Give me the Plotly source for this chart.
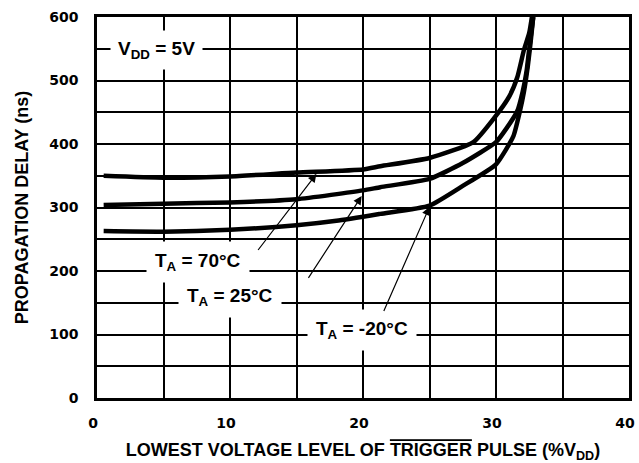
import plotly.graph_objects as go

# Data
x_70 = [0.5, 5, 10, 15, 20, 21.3, 25, 28.3, 29.9, 31.0, 31.6, 32.1, 32.5, 32.7]
y_70 = [350, 347, 349, 355, 360, 365, 378, 403, 442, 475, 505, 548, 575, 600]

x_25 = [0.5, 5, 10, 15, 20, 21.3, 25, 27.5, 30, 30.8, 31.6, 32.0, 32.3, 32.5, 32.8]
y_25 = [304, 306, 308, 313, 327, 332, 345, 370, 403, 425, 452, 482, 515, 550, 600]

x_m20 = [0.5, 5, 10, 15, 18, 21.3, 25, 27.5, 30, 31.3, 31.8, 32.1, 32.4, 32.6, 32.8]
y_m20 = [263, 262, 265, 272, 279, 290, 303, 334, 368, 412, 452, 482, 524, 560, 600]

x_ticks = [0, 10, 20, 30, 40]
y_ticks = [0, 100, 200, 300, 400, 500, 600]

labels = ["T<sub>A</sub> = 70°C", "T<sub>A</sub> = 25°C", "T<sub>A</sub> = -20°C"]
label_pos = [(7.6, 214), (10.0, 159), (19.9, 107)]
arrow_tail = [(12.0, 230), (15.8, 186), (21.5, 134)]
arrow_head = [(16.5, 353), (19.9, 318), (25.0, 301)]

fig = go.Figure()
for xs, ys in [(x_70, y_70), (x_25, y_25), (x_m20, y_m20)]:
    fig.add_trace(go.Scatter(x=xs, y=ys, mode="lines",
                             line=dict(color="black", width=4.5, shape="spline", smoothing=0.5),
                             showlegend=False, hoverinfo="skip"))

TF = "Liberation Sans, Arial, sans-serif"
annos = []
annos.append(dict(x=4.5, y=548, xref="x", yref="y", text="V<sub>DD</sub> = 5V", showarrow=False,
                  bgcolor="white", borderpad=7,
                  font=dict(family=TF, size=19, color="black", weight="bold")))
for (lx, ly), t in zip(label_pos, labels):
    annos.append(dict(x=lx, y=ly, xref="x", yref="y", text=t, showarrow=False,
                      bgcolor="white", borderpad=8,
                      font=dict(family=TF, size=19, color="black", weight="bold")))
for (tx, ty), (hx, hy) in zip(arrow_tail, arrow_head):
    annos.append(dict(x=hx, y=hy, ax=tx, ay=ty, xref="x", yref="y", axref="x", ayref="y",
                      text=" ", font=dict(size=1), showarrow=True, arrowhead=2, arrowsize=1.4,
                      arrowwidth=1.2, arrowcolor="black", standoff=0, startstandoff=0))

grid = dict(showgrid=True, gridcolor="black", gridwidth=2)
fig.update_layout(
    width=639, height=463,
    margin=dict(l=97, r=10, t=17, b=65, autoexpand=False),
    paper_bgcolor="white", plot_bgcolor="white",
    annotations=annos,
    xaxis=dict(range=[0, 40], tickvals=x_ticks, ticks="", **grid, automargin=False,
               minor=dict(dtick=5, showgrid=True, gridcolor="black", gridwidth=2),
               showline=True, linecolor="black", linewidth=2.5, mirror=True, zeroline=False,
               tickfont=dict(family="DejaVu Sans", size=14, color="black", weight="bold"),
               ticklabelstandoff=10, ticklabelshift=-4,
               title=dict(text="LOWEST VOLTAGE LEVEL OF <span style='text-decoration:overline'>TRIGGER</span> PULSE (%V<sub>DD</sub>)",
                          font=dict(family=TF, size=18, color="black", weight="bold"), standoff=18)),
    yaxis=dict(range=[0, 600], tickvals=y_ticks, ticks="", **grid, automargin=False,
               minor=dict(dtick=50, showgrid=True, gridcolor="black", gridwidth=2),
               showline=True, linecolor="black", linewidth=2.5, mirror=True, zeroline=False,
               tickfont=dict(family="DejaVu Sans", size=14, color="black", weight="bold"),
               ticklabelstandoff=13,
               title=dict(text="PROPAGATION DELAY (ns)",
                          font=dict(family=TF, size=18, color="black", weight="bold"), standoff=16)),
)

fig.write_html("out.html", config={"displayModeBar": False},
               post_script="document.body.style.margin='0px';")
